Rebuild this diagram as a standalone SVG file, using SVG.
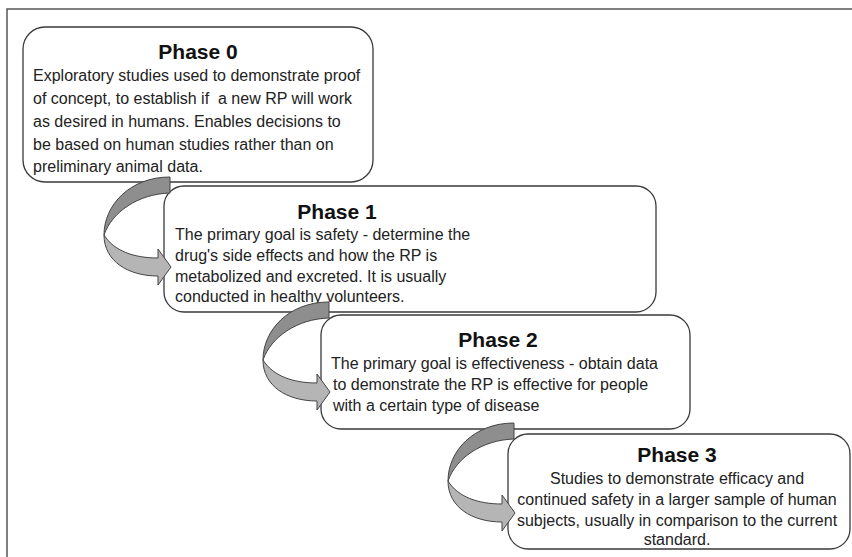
<svg xmlns="http://www.w3.org/2000/svg" width="852" height="557" viewBox="0 0 852 557">
<style>
.frame{fill:none;stroke:#555;stroke-width:1.5}
.box{fill:#fff;stroke:#3a3a3a;stroke-width:1.3}
.title{font-family:"Liberation Sans",Arial,sans-serif;font-size:21px;font-weight:bold;fill:#111;text-anchor:middle}
.body{font-family:"Liberation Sans",Arial,sans-serif;font-size:16px;fill:#222;white-space:pre}
.dark{fill:#8e8e8e;stroke:#444;stroke-width:1}
.light{fill:#b5b5b5;stroke:#444;stroke-width:1}
</style>
<defs>
<g id="curvedArrow">
<path class="light" d="M-66,58 C-66,84 -42,99 -12,99 L-12,108 L1,90 L-12,72 L-12,81 C-36,81 -56,74 -66,58 Z"/>
<path class="dark" d="M0,0 C-40,0 -66,28 -66,58 C-58,35 -32,17 0,16 Z"/>
</g>
</defs>
<rect width="852" height="557" fill="#fff"/>
<path class="frame" d="M7,557 L7,9 L852,9"/>
<g id="phase0">
<rect class="box" x="23" y="27" width="350" height="155" rx="22"/>
<text class="title" x="198" y="59">Phase 0</text>
<text class="body" x="33" y="81">Exploratory studies used to demonstrate proof</text>
<text class="body" x="33" y="104">of concept, to establish if  a new RP will work</text>
<text class="body" x="33" y="127">as desired in humans. Enables decisions to</text>
<text class="body" x="33" y="150">be based on human studies rather than on</text>
<text class="body" x="33" y="172">preliminary animal data.</text>
</g>
<g id="phase1">
<rect class="box" x="164" y="186" width="492" height="126" rx="20"/>
<text class="title" x="337" y="219">Phase 1</text>
<text class="body" x="175" y="240">The primary goal is safety - determine the</text>
<text class="body" x="175" y="261">drug's side effects and how the RP is</text>
<text class="body" x="175" y="282">metabolized and excreted. It is usually</text>
<text class="body" x="175" y="302">conducted in healthy volunteers.</text>
</g>
<g id="phase2">
<rect class="box" x="321" y="315" width="369" height="114" rx="20"/>
<text class="title" x="498" y="347">Phase 2</text>
<text class="body" x="331" y="369">The primary goal is effectiveness - obtain data</text>
<text class="body" x="333" y="390">to demonstrate the RP is effective for people</text>
<text class="body" x="333" y="411">with a certain type of disease</text>
</g>
<g id="phase3">
<rect class="box" x="508" y="434" width="342" height="115" rx="20"/>
<text class="title" x="677" y="462">Phase 3</text>
<text class="body" x="677" y="484" text-anchor="middle">Studies to demonstrate efficacy and</text>
<text class="body" x="677" y="505" text-anchor="middle">continued safety in a larger sample of human</text>
<text class="body" x="677" y="526" text-anchor="middle">subjects, usually in comparison to the current</text>
<text class="body" x="677" y="545" text-anchor="middle">standard.</text>
</g>
<g id="connectors">
<use href="#curvedArrow" transform="translate(170,177)"/>
<use href="#curvedArrow" transform="translate(329,302)"/>
<use href="#curvedArrow" transform="translate(514,423)"/>
</g>
</svg>
